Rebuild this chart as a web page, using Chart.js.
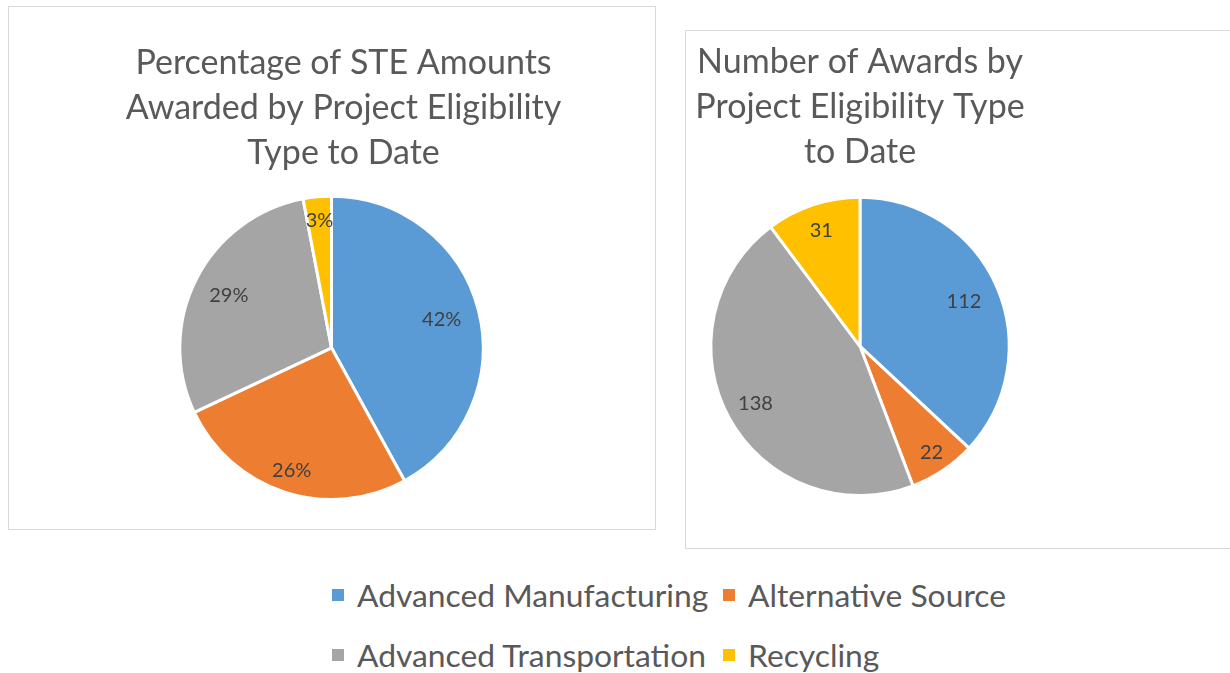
<!DOCTYPE html>
<html>
<head>
<meta charset="utf-8">
<script src="https://cdn.jsdelivr.net/npm/chart.js@4/dist/chart.umd.min.js"></script>
<style>
  html, body { margin: 0; padding: 0; background: #fff; width: 1230px; height: 673px; overflow: hidden; font-family: Lato, "Open Sans", sans-serif; }
  .box { position: absolute; border: 1.5px solid #d9d9d9; box-sizing: border-box; background: #fff; }
  .cv { position: absolute; }
  #legend { position: absolute; left: 332px; top: 573px; display: grid; grid-template-columns: 391px auto; grid-auto-rows: 60px; color: #595959; font-size: 31.8px; }
  .item { display: flex; align-items: center; white-space: nowrap; height: 44px; }
  .sw { width: 12px; height: 12px; margin-right: 13px; flex: none; }
</style>
</head>
<body>
<div class="box" style="left:8px; top:6px; width:648px; height:524px;"></div>
<div class="box" style="left:685px; top:30px; width:600px; height:519px;"></div>
<div class="cv" style="left:8px; top:6px; width:647px; height:523px;"><canvas id="c1"></canvas></div>
<div class="cv" style="left:685px; top:30px; width:350px; height:518px;"><canvas id="c2"></canvas></div>
<div id="legend"></div>
<script>
const categories = ["Advanced Manufacturing", "Alternative Source", "Advanced Transportation", "Recycling"];
const percentValues = [42, 26, 29, 3];
const awardCounts = [112, 22, 138, 31];
const title1 = ["Percentage of STE Amounts", "Awarded by Project Eligibility", "Type to Date"];
const title2 = ["Number of Awards by", "Project Eligibility Type", "to Date"];
const colors = ["#5B9BD5", "#ED7D31", "#A5A5A5", "#FFC000"];

const FONT = "Lato, 'Open Sans', sans-serif";

const sliceLabels = {
  id: 'sliceLabels',
  afterDatasetsDraw(chart, args, opts) {
    const ctx = chart.ctx;
    const meta = chart.getDatasetMeta(0);
    const data = chart.data.datasets[0].data;
    ctx.save();
    ctx.font = opts.size + "px " + FONT;
    ctx.fillStyle = opts.color;
    ctx.textAlign = 'center';
    ctx.textBaseline = 'middle';
    meta.data.forEach((arc, i) => {
      const p = arc.getProps(['x', 'y', 'startAngle', 'endAngle', 'outerRadius'], true);
      const mid = (p.startAngle + p.endAngle) / 2;
      const r = p.outerRadius * (opts.radii ? opts.radii[i] : 0.8);
      ctx.fillText(data[i] + (opts.suffix || ''), p.x + Math.cos(mid) * r, p.y + Math.sin(mid) * r);
    });
    ctx.restore();
  },
  afterLayout(chart, args, opts) {
    if (opts.titleShift && chart.titleBlock) {
      chart.titleBlock.left += opts.titleShift;
      chart.titleBlock.right += opts.titleShift;
    }
  }
};

function makePie(id, values, title, pad, suffix, radii, titleShift) {
  return new Chart(document.getElementById(id), {
    type: 'pie',
    data: {
      labels: categories,
      datasets: [{ data: values, backgroundColor: colors, borderColor: '#ffffff', borderWidth: 3 }]
    },
    options: {
      responsive: true,
      maintainAspectRatio: false,
      animation: false,
      layout: { padding: pad.layout },
      plugins: {
        legend: { display: false },
        tooltip: { enabled: false },
        title: {
          display: true,
          text: title,
          color: '#595959',
          font: { family: FONT, size: 34, weight: 'normal', lineHeight: 1.33 },
          padding: { top: pad.titleTop, bottom: pad.titleBottom }
        },
        sliceLabels: { size: 20, color: '#404040', suffix: suffix, radii: radii, titleShift: titleShift }
      }
    },
    plugins: [sliceLabels]
  });
}

makePie('c1', percentValues, title1, { layout: { bottom: 28, left: 0, right: 0, top: 0 }, titleTop: 34, titleBottom: 19 }, '%', [0.75, 0.85, 0.76, 0.84], 12);
makePie('c2', awardCounts, title2, { layout: { bottom: 51, left: 0, right: 0, top: 0 }, titleTop: 9, titleBottom: 21 }, '', [0.76, 0.86, 0.8, 0.82], 0);

const legend = document.getElementById('legend');
categories.forEach((c, i) => {
  const it = document.createElement('div');
  it.className = 'item';
  const sw = document.createElement('span');
  sw.className = 'sw';
  sw.style.background = colors[i];
  const tx = document.createElement('span');
  tx.textContent = c;
  it.appendChild(sw);
  it.appendChild(tx);
  legend.appendChild(it);
});
</script>
</body>
</html>
